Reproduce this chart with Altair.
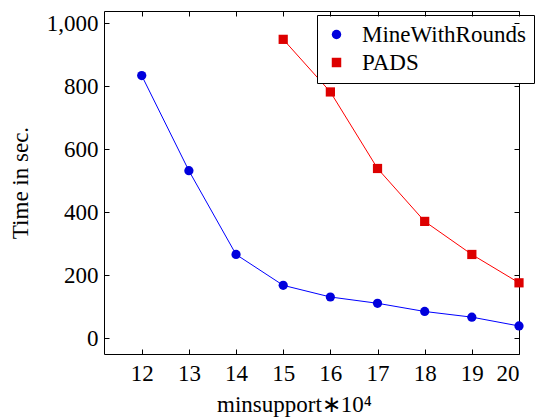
import altair as alt
import pandas as pd

x_mine = [12, 13, 14, 15, 16, 17, 18, 19, 20]
y_mine = [834, 532, 266, 168, 131, 111, 85, 67, 39]
x_pads = [15, 16, 17, 18, 19, 20]
y_pads = [949, 782, 539, 371, 266, 176]
series_names = ["MineWithRounds", "PADS"]
x_ticks = [12, 13, 14, 15, 16, 17, 18, 19, 20]
y_ticks = [0, 200, 400, 600, 800, 1000]

rows = [{"x": a, "y": b, "series": series_names[0]} for a, b in zip(x_mine, y_mine)]
rows += [{"x": a, "y": b, "series": series_names[1]} for a, b in zip(x_pads, y_pads)]
df = pd.DataFrame(rows)

FONT = "Liberation Serif"
FS = 23
W, H = 415, 343
TICK = 5

xscale = alt.Scale(domain=[11.2, 20], nice=False, zero=False)
yscale = alt.Scale(domain=[-50, 1039], nice=False, zero=False)
color_scale = alt.Scale(domain=series_names, range=["#0000dd", "#dd0000"])
shape_scale = alt.Scale(domain=series_names, range=["circle", "square"])

x_axis = alt.Axis(
    values=x_ticks, tickSize=0, tickColor="black", domain=False, zindex=1,
    grid=True, gridColor="black", gridDash=[TICK, H - 2 * TICK, TICK, 2000],
    labelFont=FONT, labelFontSize=FS, labelColor="black", labelPadding=8,
    title="minsupport∗10⁴", titleFont=FONT, titleFontSize=FS, titleFontWeight="normal",
    titleColor="black", titleX=190, titleY=57, titleBaseline="alphabetic",
)
y_axis = alt.Axis(
    values=y_ticks, format=",d", tickSize=0, tickColor="black", domain=False, zindex=1,
    grid=True, gridColor="black", gridDash=[TICK, W - 2 * TICK, TICK, 2000],
    labelFont=FONT, labelFontSize=FS, labelColor="black", labelPadding=6,
    title="Time in sec.", titleFont=FONT, titleFontSize=FS, titleFontWeight="normal",
    titleColor="black", titleX=-84, titleBaseline="middle",
)

legend = alt.Legend(
    title=None,
    orient="none",
    legendX=213,
    legendY=4,
    padding=8,
    symbolSize=90,
    labelFont=FONT,
    labelFontSize=FS,
    labelColor="black",
    labelLimit=400,
    labelOffset=14,
    rowPadding=4,
    strokeColor="black",
    fillColor="white",
)

base = alt.Chart(df)
X = alt.X("x:Q", scale=xscale, axis=x_axis)
Y = alt.Y("y:Q", scale=yscale, axis=y_axis)

line_mine = base.transform_filter(alt.datum.series == series_names[0]).mark_line(
    color="#0000ff", strokeWidth=1
).encode(x=X, y=Y)

line_pads = base.transform_filter(alt.datum.series == series_names[1]).mark_line(
    color="#ff0000", strokeWidth=1
).encode(x=X, y=Y)

points = base.mark_point(filled=True, opacity=1, size=85).encode(
    x=X, y=Y,
    color=alt.Color("series:N", scale=color_scale, legend=legend),
    shape=alt.Shape("series:N", scale=shape_scale, legend=legend),
)

chart = alt.layer(line_mine, line_pads, points).properties(
    width=W,
    height=H,
    autosize=alt.AutoSizeParams(type="none"),
    padding={"left": 104, "top": 11, "right": 32, "bottom": 63},
).configure_view(stroke="black")

chart.save("out.html", embed_options={"renderer": "svg", "actions": False})
